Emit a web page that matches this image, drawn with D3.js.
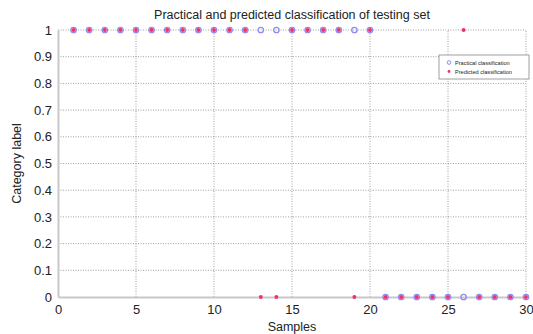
<!DOCTYPE html>
<html>
<head>
<meta charset="utf-8">
<script src="https://cdn.jsdelivr.net/npm/d3@7"></script>
<style>
  body { margin: 0; background: #fff; }
  svg { font-family: "Liberation Sans", Arial, sans-serif; }
</style>
</head>
<body>
<div id="chart"></div>
<script>
// samples 1..30
const samples = d3.range(1, 31);
const practical = [1,1,1,1,1,1,1,1,1,1,1,1,1,1,1,1,1,1,1,1,0,0,0,0,0,0,0,0,0,0];
const predicted = [1,1,1,1,1,1,1,1,1,1,1,1,0,0,1,1,1,1,0,1,0,0,0,0,0,1,0,0,0,0];
const xTicks = [0, 5, 10, 15, 20, 25, 30];
const yTicks = [0, 0.1, 0.2, 0.3, 0.4, 0.5, 0.6, 0.7, 0.8, 0.9, 1];
const legendLabels = ["Practical classification", "Predicted classification"];

const width = 533, height = 334;
const margin = { top: 30, right: 7, bottom: 37, left: 58 };

const svg = d3.select("#chart").append("svg")
  .attr("width", width)
  .attr("height", height);

const x = d3.scaleLinear().domain([0, 30]).range([margin.left, width - margin.right]);
const y = d3.scaleLinear().domain([0, 1]).range([height - margin.bottom, margin.top]);

// dotted grid
svg.append("g")
  .selectAll("line")
  .data(xTicks.slice(1))
  .join("line")
  .attr("x1", d => x(d)).attr("x2", d => x(d))
  .attr("y1", y(0)).attr("y2", y(1))
  .attr("stroke", "#888")
  .attr("stroke-width", 0.8)
  .attr("stroke-dasharray", "1,1.5");

svg.append("g")
  .selectAll("line")
  .data(yTicks.slice(1))
  .join("line")
  .attr("x1", x(0)).attr("x2", x(30))
  .attr("y1", d => y(d)).attr("y2", d => y(d))
  .attr("stroke", "#888")
  .attr("stroke-width", 0.8)
  .attr("stroke-dasharray", "1,1.5");

// axes
const xAxis = svg.append("g")
  .attr("transform", `translate(0,${y(0)})`)
  .call(d3.axisBottom(x).tickValues(xTicks).tickSize(0).tickPadding(8));
const yAxis = svg.append("g")
  .attr("transform", `translate(${x(0)},0)`)
  .call(d3.axisLeft(y).tickValues(yTicks).tickSize(0).tickPadding(6)
    .tickFormat(d => d === 0 ? "0" : d === 1 ? "1" : d3.format(".1f")(d)));

[xAxis, yAxis].forEach(g => {
  g.select(".domain").attr("stroke", "#c8c8c8").attr("stroke-width", 2);
  g.selectAll("text").attr("font-size", 13).attr("fill", "#222")
    .attr("font-family", "Liberation Sans, Arial, sans-serif");
});
xAxis.selectAll("text").attr("dy", "0.71em");

// practical (blue open circles)
svg.append("g")
  .selectAll("circle")
  .data(samples)
  .join("circle")
  .attr("cx", (d) => x(d))
  .attr("cy", (d, i) => y(practical[i]))
  .attr("r", 2.7)
  .attr("fill", "none")
  .attr("stroke", "#8c8cf2")
  .attr("stroke-width", 1.3);

// predicted (red dots)
svg.append("g")
  .selectAll("path")
  .data(samples)
  .join("path")
  .attr("transform", (d, i) => `translate(${x(d)},${y(predicted[i])})`)
  .attr("d", d3.symbol().type(d3.symbolCircle).size(12))
  .attr("fill", "#f0306a");

// title and axis labels
svg.append("text")
  .attr("x", 292).attr("y", 19)
  .attr("text-anchor", "middle")
  .attr("font-size", 12.5)
  .attr("fill", "#222")
  .text("Practical and predicted classification of testing set");

svg.append("text")
  .attr("x", 292).attr("y", 331)
  .attr("text-anchor", "middle")
  .attr("font-size", 12.5)
  .attr("fill", "#222")
  .text("Samples");

svg.append("text")
  .attr("transform", `translate(21,${(y(0) + y(1)) / 2}) rotate(-90)`)
  .attr("text-anchor", "middle")
  .attr("font-size", 12.5)
  .attr("fill", "#222")
  .text("Category label");

// legend
const legend = svg.append("g").attr("transform", "translate(439,55)");
legend.append("rect")
  .attr("width", 90).attr("height", 24)
  .attr("fill", "#fff")
  .attr("stroke", "#888")
  .attr("stroke-width", 0.8);
legend.append("circle")
  .attr("cx", 10).attr("cy", 7.5).attr("r", 1.8)
  .attr("fill", "none").attr("stroke", "#8c8cf2").attr("stroke-width", 1);
legend.append("circle")
  .attr("cx", 10).attr("cy", 16.5).attr("r", 1.4)
  .attr("fill", "#f0306a");
legend.selectAll("text")
  .data(legendLabels)
  .join("text")
  .attr("x", 16)
  .attr("y", (d, i) => 9.5 + i * 9)
  .attr("font-size", 5.6)
  .attr("fill", "#222")
  .text(d => d);
</script>
</body>
</html>
